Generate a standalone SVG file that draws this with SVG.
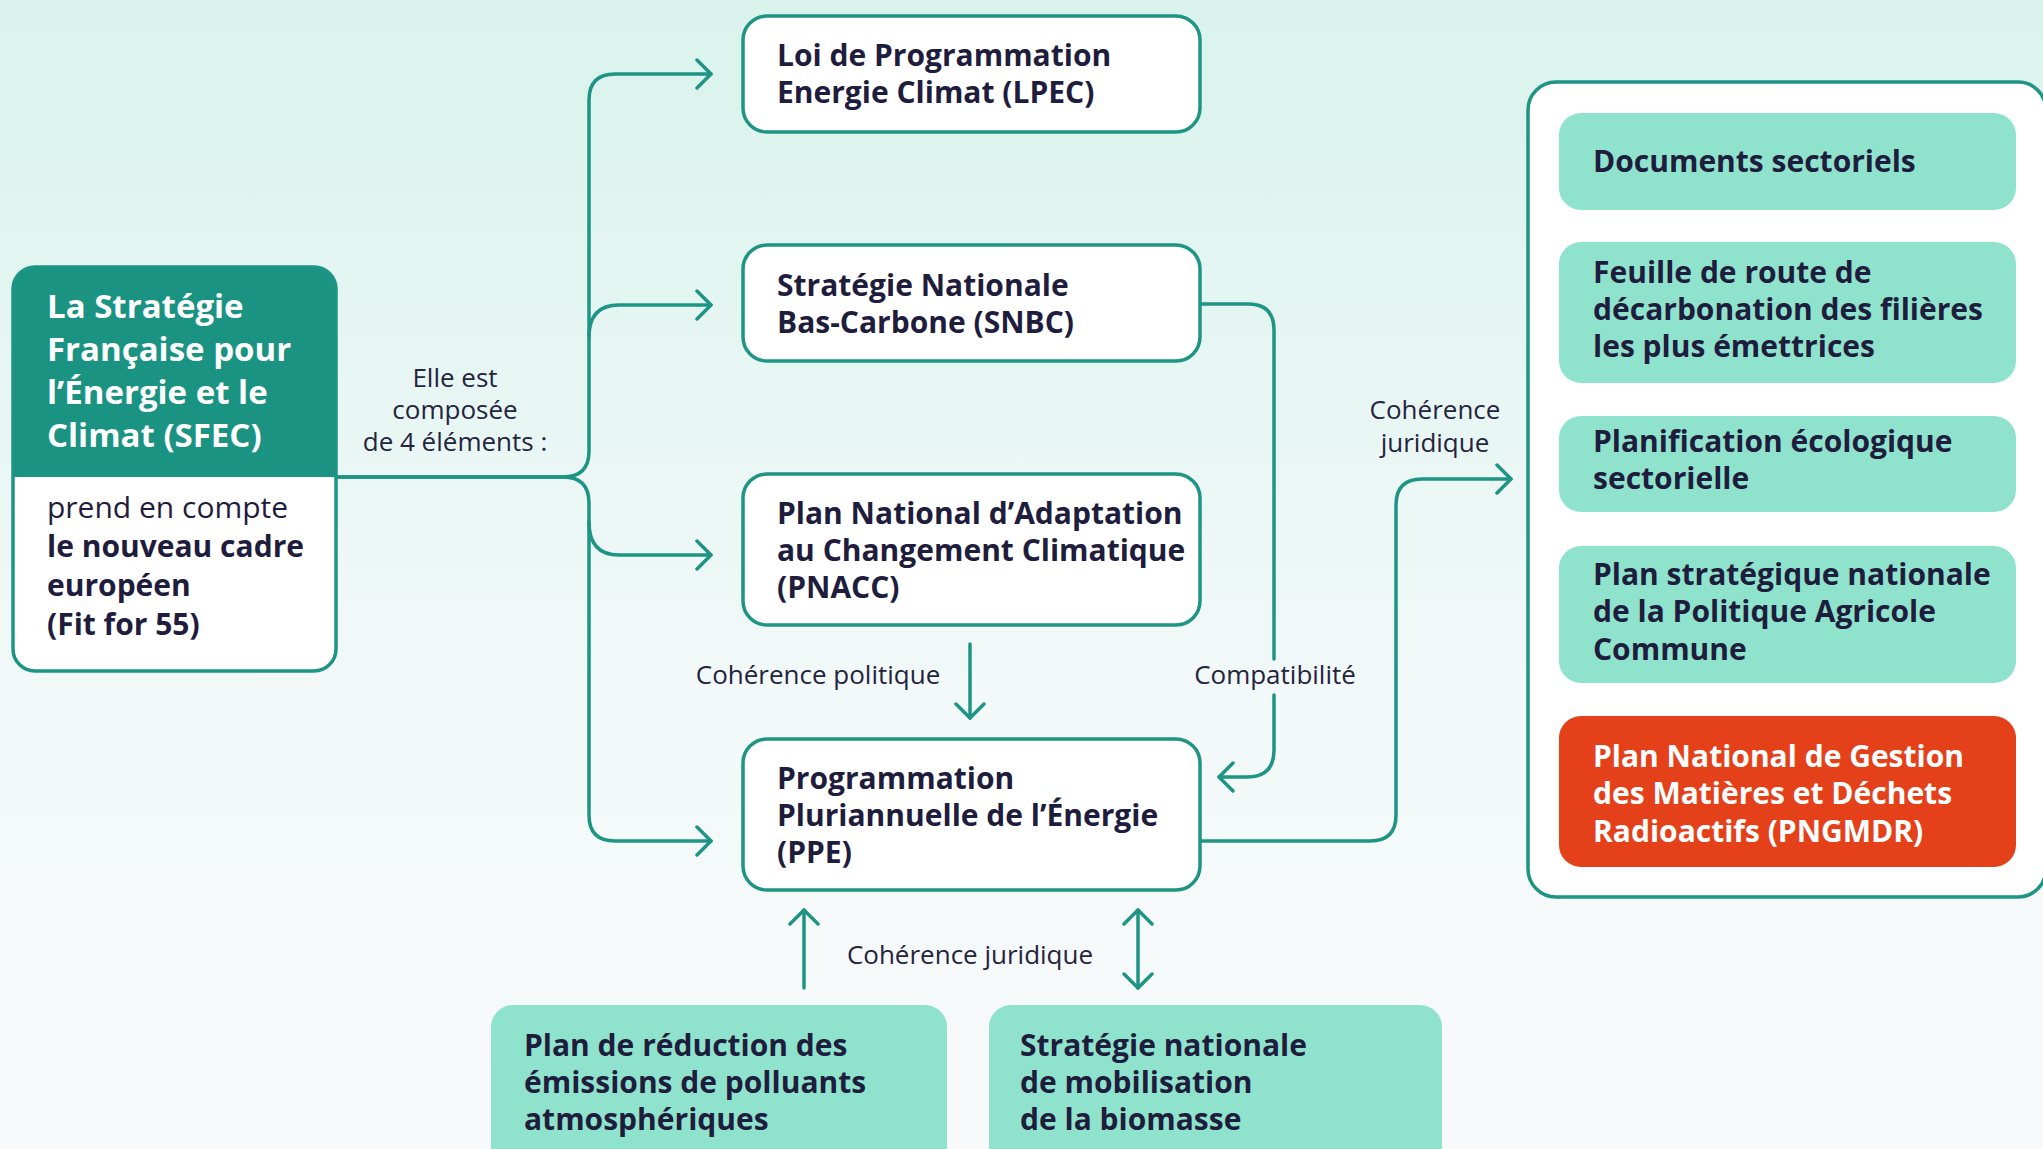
<svg xmlns="http://www.w3.org/2000/svg" width="2043" height="1149" viewBox="0 0 2043 1149">
<defs>
<linearGradient id="bg" x1="0" y1="0" x2="0" y2="1">
<stop offset="0" stop-color="#d9f3ec"/>
<stop offset="0.6" stop-color="#f2f9f8"/>
<stop offset="1" stop-color="#f8f9fb"/>
</linearGradient>
<marker id="arr" viewBox="0 0 20 32" refX="17" refY="16" markerWidth="20" markerHeight="32" markerUnits="userSpaceOnUse" orient="auto-start-reverse">
<path d="M3,2 L17,16 L3,30" fill="none" stroke="#1e9484" stroke-width="3.5" stroke-linecap="round" stroke-linejoin="round"/>
</marker>
<style>
.box{fill:#ffffff;stroke:#1e9484;stroke-width:3.5}
.mint{fill:#8fe3cd}
.red{fill:#e4411b}
.t{font-family:"Open Sans","Liberation Sans",sans-serif;font-weight:700;font-size:30px;fill:#1f1d3d}
.tw{font-family:"Open Sans","Liberation Sans",sans-serif;font-weight:700;font-size:30px;fill:#ffffff}
.h{font-size:33px}
.reg{font-weight:400}
.lab{font-family:"Open Sans","Liberation Sans",sans-serif;font-weight:400;font-size:26px;fill:#25243e}
.c{fill:none;stroke:#1e9484;stroke-width:3.5;stroke-linecap:round;stroke-linejoin:round}
</style>
</defs>
<rect x="0" y="0" width="2043" height="1149" fill="url(#bg)"/>

<g id="connectors">
<path class="c" d="M336,477 H563 Q589,477 589,451 V100 Q589,74 615,74 H711" marker-end="url(#arr)"/>
<path class="c" d="M589,337 Q589,305 619,305 H711" marker-end="url(#arr)"/>
<path class="c" d="M336,477 H563 Q589,477 589,503 V815 Q589,841 615,841 H711" marker-end="url(#arr)"/>
<path class="c" d="M589,522 Q589,555 619,555 H711" marker-end="url(#arr)"/>
<path class="c" d="M970,644 V718" marker-end="url(#arr)"/>
<path class="c" d="M1200,304 H1248 Q1274,304 1274,330 V659"/>
<path class="c" d="M1274,695 V750 Q1274,777 1247,777 H1219" marker-end="url(#arr)"/>
<path class="c" d="M1200,841 H1370 Q1396,841 1396,815 V505 Q1396,479 1422,479 H1511" marker-end="url(#arr)"/>
<path class="c" d="M804,988 V910" marker-end="url(#arr)"/>
<path class="c" d="M1138,988 V910" marker-start="url(#arr)" marker-end="url(#arr)"/>
</g>

<g id="labels">
<text class="lab" text-anchor="middle" x="455" y="387">Elle est</text>
<text class="lab" text-anchor="middle" x="455" y="419">composée</text>
<text class="lab" text-anchor="middle" x="455" y="451">de 4 éléments :</text>
<text class="lab" text-anchor="middle" x="818" y="684">Cohérence politique</text>
<text class="lab" text-anchor="middle" x="1275" y="684">Compatibilité</text>
<text class="lab" text-anchor="middle" x="1435" y="419">Cohérence</text>
<text class="lab" text-anchor="middle" x="1435" y="452">juridique</text>
<text class="lab" text-anchor="middle" x="970" y="964">Cohérence juridique</text>
</g>

<g id="sfec">
<rect x="13" y="267" width="323" height="404" rx="22" fill="#ffffff"/>
<path d="M13,477 V289 Q13,267 35,267 H314 Q336,267 336,289 V477 Z" fill="#1a9383"/>
<rect x="13" y="267" width="323" height="404" rx="22" fill="none" stroke="#1e9484" stroke-width="3.5"/>
<text class="tw h" x="47" y="318">La Stratégie</text>
<text class="tw h" x="47" y="361">Française pour</text>
<text class="tw h" x="47" y="404">l’Énergie et le</text>
<text class="tw h" x="47" y="447">Climat (SFEC)</text>
<text class="t reg" x="47" y="518">prend en compte</text>
<text class="t" x="47" y="557">le nouveau cadre</text>
<text class="t" x="47" y="596">européen</text>
<text class="t" x="47" y="635">(Fit for 55)</text>
</g>

<g id="lpec">
<rect class="box" x="743" y="16" width="457" height="116" rx="24"/>
<text class="t" x="777" y="66">Loi de Programmation</text>
<text class="t" x="777" y="103">Energie Climat (LPEC)</text>
</g>

<g id="snbc">
<rect class="box" x="743" y="245" width="457" height="116" rx="24"/>
<text class="t" x="777" y="296">Stratégie Nationale</text>
<text class="t" x="777" y="333">Bas-Carbone (SNBC)</text>
</g>

<g id="pnacc">
<rect class="box" x="743" y="474" width="457" height="151" rx="24"/>
<text class="t" x="777" y="524">Plan National d’Adaptation</text>
<text class="t" x="777" y="561">au Changement Climatique</text>
<text class="t" x="777" y="598">(PNACC)</text>
</g>

<g id="ppe">
<rect class="box" x="743" y="739" width="457" height="151" rx="24"/>
<text class="t" x="777" y="789">Programmation</text>
<text class="t" x="777" y="826">Pluriannuelle de l’Énergie</text>
<text class="t" x="777" y="863">(PPE)</text>
</g>

<g id="documents">
<rect class="box" x="1528" y="82" width="518" height="815" rx="28"/>
<rect class="mint" x="1559" y="113" width="457" height="97" rx="22"/>
<text class="t" x="1593" y="172">Documents sectoriels</text>
</g>

<g id="feuille">
<rect class="mint" x="1559" y="242" width="457" height="141" rx="22"/>
<text class="t" x="1593" y="283">Feuille de route de</text>
<text class="t" x="1593" y="320">décarbonation des filières</text>
<text class="t" x="1593" y="357">les plus émettrices</text>
</g>

<g id="planification">
<rect class="mint" x="1559" y="416" width="457" height="96" rx="22"/>
<text class="t" x="1593" y="452">Planification écologique</text>
<text class="t" x="1593" y="489">sectorielle</text>
</g>

<g id="pac">
<rect class="mint" x="1559" y="546" width="457" height="137" rx="22"/>
<text class="t" x="1593" y="585">Plan stratégique nationale</text>
<text class="t" x="1593" y="622">de la Politique Agricole</text>
<text class="t" x="1593" y="660">Commune</text>
</g>

<g id="pngmdr">
<rect class="red" x="1559" y="716" width="457" height="151" rx="22"/>
<text class="tw" x="1593" y="767">Plan National de Gestion</text>
<text class="tw" x="1593" y="804">des Matières et Déchets</text>
<text class="tw" x="1593" y="842">Radioactifs (PNGMDR)</text>
</g>

<g id="polluants">
<rect class="mint" x="491" y="1005" width="456" height="180" rx="22"/>
<text class="t" x="524" y="1056">Plan de réduction des</text>
<text class="t" x="524" y="1093">émissions de polluants</text>
<text class="t" x="524" y="1130">atmosphériques</text>
</g>

<g id="biomasse">
<rect class="mint" x="989" y="1005" width="453" height="180" rx="22"/>
<text class="t" x="1020" y="1056">Stratégie nationale</text>
<text class="t" x="1020" y="1093">de mobilisation</text>
<text class="t" x="1020" y="1130">de la biomasse</text>
</g>
</svg>
